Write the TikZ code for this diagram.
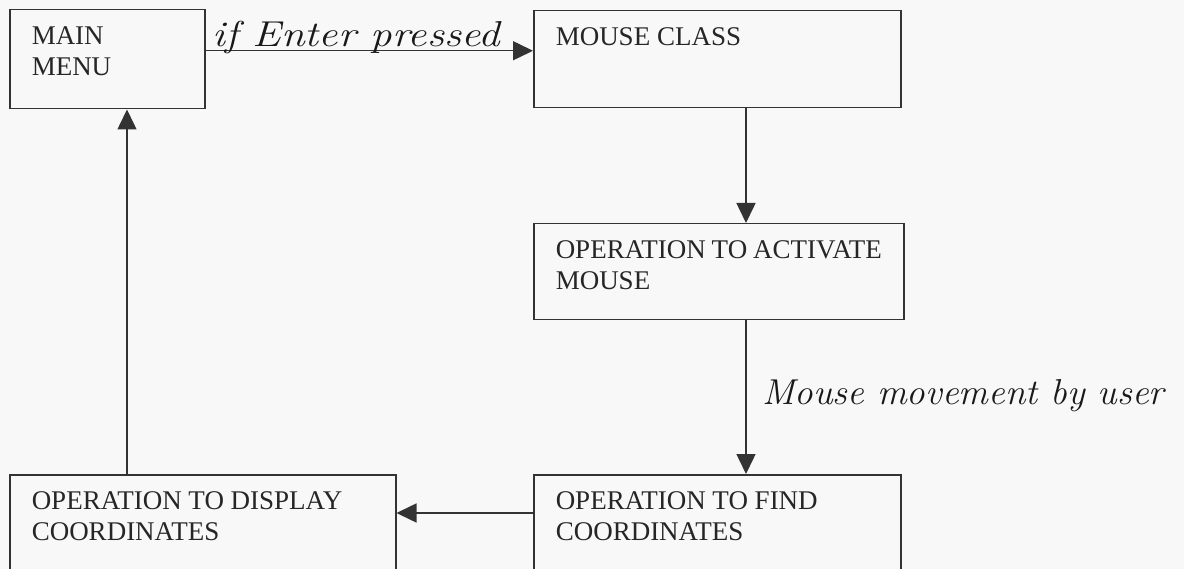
\documentclass[tikz,border=0pt]{standalone}
\usepackage{fontspec}
\newfontfamily\boxfont{Liberation Serif}
\usetikzlibrary{arrows.meta,calc}
\definecolor{ink}{HTML}{333333}
\definecolor{paper}{HTML}{F8F8F8}
% text block inside a box: width, height, lines
\newcommand\boxtext[3]{\parbox[t][#2][t]{#1}{\raggedright #3}}
\tikzset{
  stepbox/.style={draw=ink, line width=1.5pt, rectangle, anchor=north west,
    inner xsep=22pt, inner ysep=17pt,
    font=\boxfont\fontsize{27}{31}\selectfont, text=black!85},
  flow/.style={draw=ink, line width=1.5pt, -{Triangle[length=20pt,width=19pt]}},
  hand/.style={font=\itshape\fontsize{36}{36}\selectfont, text=black!90,
    anchor=base west, inner sep=0pt}
}
\begin{document}
\begin{tikzpicture}[x=1pt,y=-1pt]
  \fill[paper] (0,0) rectangle (1184,569);
  \clip (0,0) rectangle (1184,569);

  % boxes
  \node[stepbox] (menu) at (9,9) {\boxtext{151pt}{65pt}{MAIN\\MENU}};
  \node[stepbox] (mouse) at (533,10) {\boxtext{323pt}{63pt}{MOUSE CLASS}};
  \node[stepbox] (activate) at (533,223) {\boxtext{326pt}{62pt}{OPERATION TO ACTIVATE\\MOUSE}};
  \node[stepbox] (find) at (533,474) {\boxtext{323pt}{120pt}{OPERATION TO FIND\\COORDINATES}};
  \node[stepbox] (display) at (9,474) {\boxtext{342pt}{120pt}{OPERATION TO DISPLAY\\COORDINATES}};

  % guide lines for the connectors
  \coordinate (vdown) at (746,0);
  \coordinate (hleft) at (0,513);
  \coordinate (vup) at (127,0);

  % connectors
  \draw[flow] ([yshift=8.5pt]menu.east) -- ([yshift=8.5pt]menu.east -| mouse.west);
  \draw[flow] (mouse.south -| vdown) -- (activate.north -| vdown);
  \draw[flow] (activate.south -| vdown) -- (find.north -| vdown);
  \draw[flow] (find.west |- hleft) -- (display.east |- hleft);
  \draw[flow] (display.north -| vup) -- (menu.south -| vup);

  % handwritten notes
  \node[hand] (enter) at (212,47) {\scalebox{1.19}[1]{if Enter pressed}};
  \node[hand] (move) at (762,405) {\scalebox{1.03}[1]{Mouse movement by user}};
\end{tikzpicture}
\end{document}
